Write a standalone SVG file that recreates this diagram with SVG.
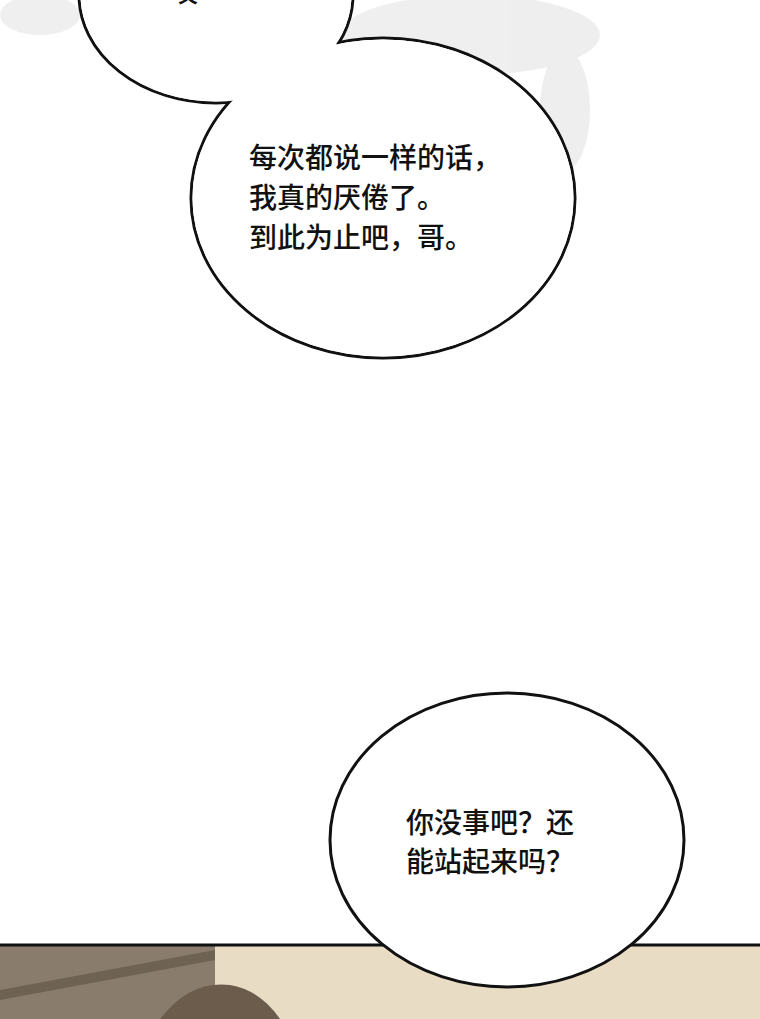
<svg xmlns="http://www.w3.org/2000/svg" width="760" height="1019" viewBox="0 0 760 1019">
<style>
.b{fill:#fff;stroke:#111;stroke-width:3}
.f{fill:#fff;stroke:none}
.t{font-family:"Noto Sans CJK SC","Liberation Sans",sans-serif;font-size:28px;font-weight:500;fill:#111}
</style>
<rect width="760" height="1019" fill="#fff"/>
<g id="texture" fill="#e4e4e4" opacity="0.6">
<ellipse cx="470" cy="35" rx="130" ry="40"/>
<ellipse cx="565" cy="110" rx="25" ry="60"/>
<ellipse cx="40" cy="15" rx="40" ry="20"/>
</g>
<g id="panel">
<rect x="0" y="945" width="760" height="74" fill="#e9dcc4"/>
<rect x="0" y="945" width="215" height="74" fill="#8a7c6c"/>
<path d="M0,990 L215,950 L215,960 L0,1000Z" fill="#6e6252"/>
<path d="M160,1019 Q190,980 230,985 Q260,990 280,1019Z" fill="#6b5c4c"/>
<line x1="0" y1="945" x2="760" y2="945" stroke="#111" stroke-width="3"/>
</g>
<g id="bubble1">
<ellipse class="b" cx="216" cy="-5" rx="137" ry="108"/>
<ellipse class="b" cx="383" cy="198" rx="192" ry="160"/>
<ellipse class="f" cx="216" cy="-5" rx="135.5" ry="106.5"/>
<ellipse class="f" cx="383" cy="198" rx="190.5" ry="158.5"/>
<text class="t" x="170" y="2">哎</text>
<text class="t" x="249" y="168">每次都说一样的话，</text>
<text class="t" x="249" y="208">我真的厌倦了。</text>
<text class="t" x="249" y="248">到此为止吧，哥。</text>
</g>
<g id="bubble2">
<ellipse class="b" cx="507" cy="840" rx="177" ry="147"/>
<text class="t" x="406" y="833">你没事吧？还</text>
<text class="t" x="406" y="872">能站起来吗？</text>
</g>
<g id="connectors"/>
</svg>
